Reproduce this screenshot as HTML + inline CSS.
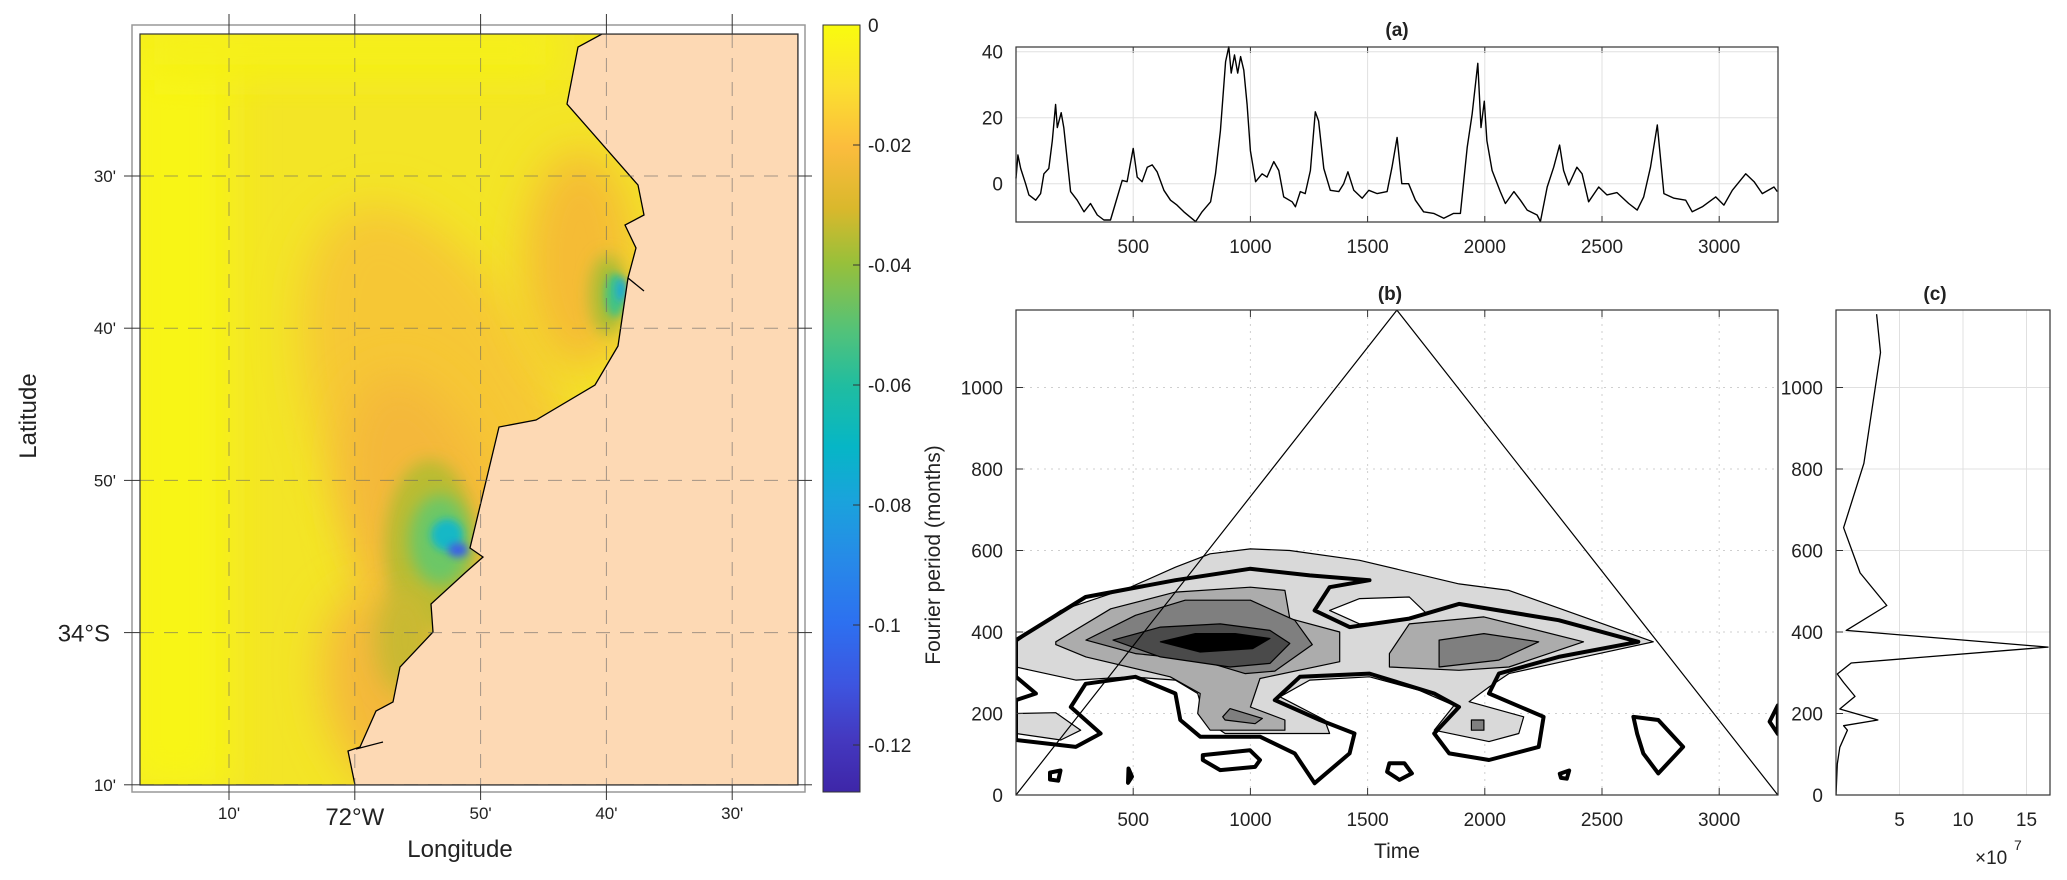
<!DOCTYPE html>
<html><head><meta charset="utf-8">
<style>
html,body{margin:0;padding:0;background:#fff;}
svg{display:block;font-family:"Liberation Sans",Arial,sans-serif;}
</style></head>
<body>
<svg id="fig" width="2067" height="880" viewBox="0 0 2067 880" xmlns="http://www.w3.org/2000/svg">
<defs>
  <linearGradient id="parula" x1="0" y1="0" x2="0" y2="1">
    <stop offset="0" stop-color="#f9fb0e"/>
    <stop offset="0.08" stop-color="#fbe02f"/>
    <stop offset="0.16" stop-color="#fbbc3d"/>
    <stop offset="0.24" stop-color="#d9b82c"/>
    <stop offset="0.31" stop-color="#98c03a"/>
    <stop offset="0.40" stop-color="#52c27a"/>
    <stop offset="0.47" stop-color="#20bda0"/>
    <stop offset="0.55" stop-color="#06b6c6"/>
    <stop offset="0.62" stop-color="#1aa3dc"/>
    <stop offset="0.70" stop-color="#2789e8"/>
    <stop offset="0.78" stop-color="#2d70f0"/>
    <stop offset="0.86" stop-color="#3d55e0"/>
    <stop offset="0.93" stop-color="#4439c0"/>
    <stop offset="1" stop-color="#3e26a8"/>
  </linearGradient>
  <filter id="blur20" x="-50%" y="-50%" width="200%" height="200%"><feGaussianBlur stdDeviation="22"/></filter>
  <filter id="blur12" x="-50%" y="-50%" width="200%" height="200%"><feGaussianBlur stdDeviation="12"/></filter>
  <filter id="blur8" x="-50%" y="-50%" width="200%" height="200%"><feGaussianBlur stdDeviation="8"/></filter>
  <filter id="blur4" x="-50%" y="-50%" width="200%" height="200%"><feGaussianBlur stdDeviation="4"/></filter>
  <clipPath id="mapclip"><rect x="140" y="34" width="658" height="751"/></clipPath>
  <clipPath id="bclip"><rect x="1016" y="310" width="762" height="485"/></clipPath>
  <clipPath id="cclip"><rect x="1836" y="310" width="214" height="485"/></clipPath>
</defs>

<!-- MAP -->
<g>
  <rect x="132" y="25" width="673" height="767" fill="#fff" stroke="#999" stroke-width="1.5"/>
  <g clip-path="url(#mapclip)">
    <rect x="140" y="34" width="658" height="751" fill="#f3e526"/>
    <rect x="120" y="34" width="110" height="760" fill="#f8f512" filter="url(#blur20)"/>
    <rect x="140" y="20" width="420" height="60" fill="#f6f118" filter="url(#blur20)"/>
    <ellipse cx="450" cy="450" rx="120" ry="260" transform="rotate(-22 450 450)" fill="#f6c734" filter="url(#blur20)"/>
    <ellipse cx="430" cy="540" rx="75" ry="170" transform="rotate(-15 430 540)" fill="#f4b83a" filter="url(#blur20)"/>
    <ellipse cx="380" cy="690" rx="55" ry="100" transform="rotate(-10 380 690)" fill="#f4b83a" filter="url(#blur20)"/>
    <ellipse cx="580" cy="260" rx="55" ry="110" fill="#f5bb36" filter="url(#blur20)"/>
    <ellipse cx="430" cy="545" rx="45" ry="85" fill="#b9bc32" filter="url(#blur8)"/>
    <ellipse cx="405" cy="640" rx="30" ry="55" fill="#c9b930" filter="url(#blur12)"/>
    <ellipse cx="440" cy="540" rx="30" ry="45" fill="#6cc766" filter="url(#blur8)"/>
    <ellipse cx="447" cy="535" rx="16" ry="16" fill="#14b8c6" filter="url(#blur4)"/>
    <ellipse cx="458" cy="550" rx="10" ry="7" fill="#3b5ee8" filter="url(#blur4)"/>
    <ellipse cx="608" cy="295" rx="18" ry="40" fill="#a9bd34" filter="url(#blur8)"/>
    <ellipse cx="615" cy="295" rx="10" ry="22" fill="#44c382" filter="url(#blur4)"/>
    <ellipse cx="621" cy="290" rx="5" ry="12" fill="#1ea8d8" filter="url(#blur4)"/>
    <polygon id="land" fill="#fdd9b4" stroke="#000" stroke-width="1.3"
      points="602,34 578,47 567,104 638,185 644,215 625,225 636,248 628,278 618,346 595,385 536,420 499,427 470,548 483,557 466,572 431,604 433,632 400,667 393,702 376,711 360,747 348,751 355,785 798,785 798,34"/>
    <polyline points="628,278 644,291" stroke="#000" stroke-width="1.3" fill="none"/>
    <polyline points="356,749 383,742" stroke="#000" stroke-width="1.3" fill="none"/>
    <g id="mapgrid"></g>
  </g>
  <rect x="140" y="34" width="658" height="751" fill="none" stroke="#333" stroke-width="1.2"/>
  <g id="mapticks"></g>
  <text x="460" y="857" font-size="24" text-anchor="middle" fill="#222">Longitude</text>
  <text transform="translate(36,416) rotate(-90)" font-size="24" text-anchor="middle" fill="#222">Latitude</text>
</g>

<!-- COLORBAR -->
<g>
  <rect x="823" y="25" width="37" height="767" fill="url(#parula)" stroke="#333" stroke-width="1"/>
  <g id="cbticks"></g>
</g>

<g id="pa"></g>
<g id="pb"></g>
<g id="pc"></g>
</svg>

<script>
// ---------------- data ----------------
const lonLabels = ["10'", "72°W", "50'", "40'", "30'"];
const latLabels = ["30'", "40'", "50'", "34°S", "10'"];
const cbValues = [0, -0.02, -0.04, -0.06, -0.08, -0.1, -0.12];
const cbLabels = ["0", "-0.02", "-0.04", "-0.06", "-0.08", "-0.1", "-0.12"];

const timeTicks = [500, 1000, 1500, 2000, 2500, 3000];
const aYTicks = [0, 20, 40];
const periodTicks = [0, 200, 400, 600, 800, 1000];
const cXTicks = [5, 10, 15];

const seriesT = [0,8,20,41,55,84,105,119,140,155,169,176,193,204,219,233,261,290,318,347,375,403,424,453,474,500,517,538,560,581,602,631,659,687,716,766,794,830,851,872,894,908,918,932,946,958,972,986,1000,1022,1050,1071,1100,1121,1142,1178,1192,1213,1234,1256,1277,1291,1313,1341,1377,1398,1416,1441,1477,1505,1541,1583,1604,1626,1646,1675,1704,1739,1782,1825,1867,1896,1925,1946,1970,1984,1998,2009,2031,2066,2088,2124,2152,2181,2223,2237,2266,2294,2319,2336,2358,2393,2415,2443,2486,2521,2564,2614,2650,2678,2707,2736,2764,2807,2857,2885,2928,2985,3020,3056,3113,3149,3184,3234,3248];
const seriesV = [1.6,8.7,4.6,0,-3.4,-5,-3,3,4.6,13,24,17,21.5,17,7,-2.4,-5,-8.5,-6,-9.5,-11,-11,-6,1,0.6,10.7,2,0.6,5,5.7,3.6,-2,-5,-6.5,-8.5,-11.5,-8.5,-5.5,3,16,37,41.5,33.5,39,33.5,38.5,34.4,24,10,0.6,3,2,6.7,4,-4,-5.5,-7,-2.4,-3,4,21.8,19,4.6,-2,-2.4,0,3.6,-2,-4.4,-2,-3,-2.4,5,14,0,0,-5,-8.5,-9,-10.5,-9,-9,11,21,36.5,17,25,13,4,-2.4,-6,-2.4,-5,-8,-9.5,-11.5,-1,5,11.7,4,-0.4,5,3,-5.5,-1,-3.4,-2.7,-6,-8,-4,5,17.8,-3,-4.4,-5,-8.5,-7,-4,-6.5,-2,3,0.6,-3,-1,-2.4];

const coiT = [0, 1625, 3250];
const coiP = [0, 1190, 0];

const levelOuter = [[0,375],[191,453],[488,510],[680,559],[828,592],[1000,604],[1168,600],[1466,576],[1890,518],[2103,502],[2421,437],[2719,376],[2421,339],[2103,298],[2018,265],[1933,229],[2166,192],[2145,151],[2018,131],[1784,159],[1869,220],[1720,257],[1508,290],[1253,282],[1126,241],[1317,184],[1338,151],[1147,151],[892,151],[807,184],[775,249],[680,282],[488,290],[255,282],[64,306],[0,314]];
const levelOuterBlob = [[0,200],[170,202],[276,159],[191,135],[0,151]];
const levelHole = [[1338,453],[1466,482],[1678,486],[1752,445],[1657,429],[1466,420]];
const level2Left = [[170,376],[404,457],[680,498],[1000,510],[1147,502],[1168,433],[1381,400],[1381,327],[1041,286],[1000,216],[1147,184],[1147,159],[828,159],[775,200],[786,249],[658,290],[298,339],[170,369]];
const level2Right = [[1593,347],[1678,420],[1996,437],[2421,376],[2103,314],[1890,306],[1593,314]];
const level3Left = [[298,380],[510,441],[722,478],[1000,478],[1189,429],[1264,369],[1104,304],[977,298],[786,331],[510,347]];
const level3Right = [[1805,380],[1996,396],[2230,376],[2060,331],[1805,314]];
const level3BlobA = [[882,192],[913,212],[1051,188],[1020,175],[892,184]];
const level3BlobB = [[1943,184],[1996,184],[1996,159],[1943,159]];
const level4 = [[414,380],[616,412],[871,420],[1083,404],[1168,372],[1083,323],[913,314],[616,339]];
const level5 = [[616,376],[765,396],[935,396],[1083,384],[1009,359],[786,351]];
const sigMain = [[0,380],[297,486],[680,527],[998,555],[1253,539],[1508,527],[1338,510],[1274,453],[1423,412],[1678,433],[1890,469],[2315,429],[2655,376],[2315,339],[2060,298],[2018,249],[2251,192],[2230,118],[2018,86],[1848,102],[1784,151],[1890,216],[1784,249],[1508,298],[1211,290],[1104,233],[1296,184],[1444,151],[1423,102],[1274,29],[1189,102],[1041,143],[786,143],[701,184],[680,249],[510,290],[297,273],[234,216],[361,151],[255,118],[0,135],[0,233],[85,249],[0,290]];
const sigLoopA = [[797,98],[998,110],[1041,86],[1020,69],[871,61],[797,86]];
const sigLoopB = [[2634,192],[2740,184],[2846,118],[2740,53],[2676,102],[2650,150]];
const sigLoopC = [[1593,78],[1657,78],[1689,53],[1636,37],[1583,57]];
const sigLoopD = [[145,55],[190,60],[180,35],[145,38]];
const sigLoopE = [[480,65],[495,45],[478,30]];
const sigLoopF = [[2320,52],[2360,60],[2350,40],[2325,42]];
const sigLoopG = [[3250,220],[3215,180],[3250,150]];

const specP = [1180,1086,814,656,545,465,404,363,324,297,276,242,211,184,170,159,117,76,0];
const specV = [3.2,3.5,2.2,0.6,1.9,4.0,0.8,16.7,1.2,0.1,0.6,1.5,0.3,3.3,0.6,0.9,0.3,0.1,0];

// ---------------- helpers ----------------
const NS = "http://www.w3.org/2000/svg";
function mk(parent, tag, attrs, text) {
  const e = document.createElementNS(NS, tag);
  for (const k in attrs) e.setAttribute(k, attrs[k]);
  if (text !== undefined) e.textContent = text;
  parent.appendChild(e);
  return e;
}
const tX = t => 1016 + t * 0.2344;
const aY = v => 183.7 - v * 3.3;
const pY = p => 795 - p * 0.4075;
const cX = v => 1836 + v * 12.7;
const cbY = v => 25 + (-v) * 6000;
const mapLonX = i => 229 + i * 125.8;
const mapLatY = i => 176 + i * 152.2;
const TF = 19;

// ---------------- map grid & ticks ----------------
const mg = document.getElementById('mapgrid');
const mt = document.getElementById('mapticks');
lonLabels.forEach((lab, i) => {
  const x = mapLonX(i);
  const gl = mk(mg, 'line', {x1:x, y1:34, x2:x, y2:785, stroke:'#666', 'stroke-width':1, 'stroke-dasharray':'14,10', opacity:0.6});
  
  
  mk(mt, 'line', {x1:x, y1:14, x2:x, y2:34, stroke:'#333', 'stroke-width':1});
  mk(mt, 'line', {x1:x, y1:785, x2:x, y2:800, stroke:'#333', 'stroke-width':1});
  const big = lab.indexOf('°') >= 0;
  const t = mk(mt, 'text', {x:x, y: big ? 825 : 819, 'font-size': big ? 24 : 17, 'text-anchor':'middle', fill:'#222'}, lab);
  
  
});
latLabels.forEach((lab, i) => {
  const y = mapLatY(i);
  const gl = mk(mg, 'line', {x1:140, y1:y, x2:798, y2:y, stroke:'#666', 'stroke-width':1, 'stroke-dasharray':'14,10', opacity:0.6});
  
  
  mk(mt, 'line', {x1:124, y1:y, x2:140, y2:y, stroke:'#333', 'stroke-width':1});
  mk(mt, 'line', {x1:798, y1:y, x2:812, y2:y, stroke:'#333', 'stroke-width':1});
  const big = lab.indexOf('°') >= 0;
  const t = mk(mt, 'text', {x: big ? 110 : 116, y:y + (big ? 9 : 6), 'font-size': big ? 24 : 17, 'text-anchor':'end', fill:'#222'}, lab);
  
  
});

// ---------------- colorbar ticks ----------------
const cbt = document.getElementById('cbticks');
cbValues.forEach((v, i) => {
  const y = cbY(v);
  mk(cbt, 'line', {x1:853, y1:y, x2:860, y2:y, stroke:'#333', 'stroke-width':1});
  const t = mk(cbt, 'text', {x:868, y:y + 7, 'font-size':TF, fill:'#222'}, cbLabels[i]);
  
  
});

// ---------------- panel a ----------------
const pa = document.getElementById('pa');
timeTicks.forEach(t => {
  const x = tX(t);
  mk(pa, 'line', {x1:x, y1:47, x2:x, y2:222, stroke:'#e0e0e0', 'stroke-width':1});
  mk(pa, 'line', {x1:x, y1:47, x2:x, y2:53, stroke:'#333'});
  mk(pa, 'line', {x1:x, y1:216, x2:x, y2:222, stroke:'#333'});
  const lb = mk(pa, 'text', {x:x, y:253, 'font-size':TF, 'text-anchor':'middle', fill:'#222'}, String(t));
  
  
});
aYTicks.forEach(v => {
  const y = aY(v);
  mk(pa, 'line', {x1:1016, y1:y, x2:1778, y2:y, stroke:'#e0e0e0', 'stroke-width':1});
  const lb = mk(pa, 'text', {x:1003, y:y + 7, 'font-size':TF, 'text-anchor':'end', fill:'#222'}, String(v));
  
  
});
{
  let d = '';
  seriesT.forEach((t, i) => { d += (i ? 'L' : 'M') + tX(t).toFixed(1) + ',' + aY(seriesV[i]).toFixed(1); });
  const ln = mk(pa, 'path', {d:d, fill:'none', stroke:'#000', 'stroke-width':1.4, 'stroke-linejoin':'round'});
  
  
}
mk(pa, 'rect', {x:1016, y:47, width:762, height:175, fill:'none', stroke:'#333', 'stroke-width':1.2});
{
  const tt = mk(pa, 'text', {x:1397, y:36, 'font-size':19, 'font-weight':'bold', 'text-anchor':'middle', fill:'#222'}, '(a)');
  
  
}

// ---------------- panel b ----------------
const pb = document.getElementById('pb');
const clipB = mk(pb, 'g', {'clip-path':'url(#bclip)'});
timeTicks.forEach(t => {
  const x = tX(t);
  mk(clipB, 'line', {x1:x, y1:310, x2:x, y2:795, stroke:'#cfcfcf', 'stroke-width':1, 'stroke-dasharray':'2,5'});
});
periodTicks.forEach(p => {
  const y = pY(p);
  mk(clipB, 'line', {x1:1016, y1:y, x2:1778, y2:y, stroke:'#cfcfcf', 'stroke-width':1, 'stroke-dasharray':'2,5'});
});
function poly(parent, pts, attrs, name) {
  const s = pts.map(p => tX(p[0]).toFixed(1) + ',' + pY(p[1]).toFixed(1)).join(' ');
  const a = Object.assign({points:s}, attrs);
  const e = mk(parent, 'polygon', a);
  
  
  return e;
}
const thin = {stroke:'#000', 'stroke-width':1.2, 'stroke-linejoin':'round'};
poly(clipB, levelOuter, Object.assign({fill:'#d9d9d9'}, thin), 'contour-level-1');
poly(clipB, levelOuterBlob, Object.assign({fill:'#d9d9d9'}, thin), 'contour-level-1-blob');
poly(clipB, levelHole, Object.assign({fill:'#ffffff'}, thin), 'contour-hole');
poly(clipB, level2Left, Object.assign({fill:'#acacac'}, thin), 'contour-level-2-left');
poly(clipB, level2Right, Object.assign({fill:'#acacac'}, thin), 'contour-level-2-right');
poly(clipB, level3Left, Object.assign({fill:'#7f7f7f'}, thin), 'contour-level-3-left');
poly(clipB, level3Right, Object.assign({fill:'#7f7f7f'}, thin), 'contour-level-3-right');
poly(clipB, level3BlobA, Object.assign({fill:'#7f7f7f'}, thin), 'contour-level-3-blob-a');
poly(clipB, level3BlobB, Object.assign({fill:'#7f7f7f'}, thin), 'contour-level-3-blob-b');
poly(clipB, level4, Object.assign({fill:'#4a4a4a'}, thin), 'contour-level-4');
poly(clipB, level5, Object.assign({fill:'#000'}, thin), 'contour-level-5');
const thick = {fill:'none', stroke:'#000', 'stroke-width':4, 'stroke-linejoin':'round'};
poly(clipB, sigMain, thick, 'significance-contour');
poly(clipB, sigLoopA, thick, 'significance-loop');
poly(clipB, sigLoopB, thick, 'significance-loop');
poly(clipB, sigLoopC, thick, 'significance-loop');
poly(clipB, sigLoopD, thick, 'significance-loop');
poly(clipB, sigLoopE, thick, 'significance-loop');
poly(clipB, sigLoopF, thick, 'significance-loop');
poly(clipB, sigLoopG, thick, 'significance-loop');
{
  const s = coiT.map((t, i) => tX(t).toFixed(1) + ',' + pY(coiP[i]).toFixed(1)).join(' ');
  const c = mk(clipB, 'polyline', {points:s, fill:'none', stroke:'#000', 'stroke-width':1.2});
  
  
}
mk(pb, 'rect', {x:1016, y:310, width:762, height:485, fill:'none', stroke:'#333', 'stroke-width':1.2});
timeTicks.forEach(t => {
  const x = tX(t);
  mk(pb, 'line', {x1:x, y1:310, x2:x, y2:317, stroke:'#333'});
  mk(pb, 'line', {x1:x, y1:788, x2:x, y2:795, stroke:'#333'});
  const lb = mk(pb, 'text', {x:x, y:826, 'font-size':TF, 'text-anchor':'middle', fill:'#222'}, String(t));
  
  
});
periodTicks.forEach(p => {
  const y = pY(p);
  mk(pb, 'line', {x1:1016, y1:y, x2:1023, y2:y, stroke:'#333'});
  const lb = mk(pb, 'text', {x:1003, y:y + 7, 'font-size':TF, 'text-anchor':'end', fill:'#222'}, String(p));
  
  
});
{
  const a = mk(pb, 'text', {x:1397, y:858, 'font-size':21, 'text-anchor':'middle', fill:'#222'}, 'Time');
  
  
  const b = mk(pb, 'text', {transform:'translate(940,555) rotate(-90)', 'font-size':21, 'text-anchor':'middle', fill:'#222'}, 'Fourier period (months)');
  
  
  const c = mk(pb, 'text', {x:1390, y:300, 'font-size':19, 'font-weight':'bold', 'text-anchor':'middle', fill:'#222'}, '(b)');
  
  
}

// ---------------- panel c ----------------
const pc = document.getElementById('pc');
const clipC = mk(pc, 'g', {'clip-path':'url(#cclip)'});
cXTicks.forEach(v => {
  const x = cX(v);
  mk(clipC, 'line', {x1:x, y1:310, x2:x, y2:795, stroke:'#e0e0e0', 'stroke-width':1});
});
periodTicks.forEach(p => {
  const y = pY(p);
  mk(clipC, 'line', {x1:1836, y1:y, x2:2050, y2:y, stroke:'#e0e0e0', 'stroke-width':1});
});
{
  const s = specP.map((p, i) => cX(specV[i]).toFixed(1) + ',' + pY(p).toFixed(1)).join(' ');
  const l = mk(clipC, 'polyline', {points:s, fill:'none', stroke:'#000', 'stroke-width':1.3, 'stroke-linejoin':'round'});
  
  
}
mk(pc, 'rect', {x:1836, y:310, width:214, height:485, fill:'none', stroke:'#333', 'stroke-width':1.2});
cXTicks.forEach(v => {
  const x = cX(v);
  const lb = mk(pc, 'text', {x:x, y:826, 'font-size':TF, 'text-anchor':'middle', fill:'#222'}, String(v));
  
  
});
periodTicks.forEach(p => {
  const y = pY(p);
  mk(pc, 'line', {x1:1836, y1:y, x2:1843, y2:y, stroke:'#333'});
  const lb = mk(pc, 'text', {x:1823, y:y + 7, 'font-size':TF, 'text-anchor':'end', fill:'#222'}, String(p));
  
  
});
{
  const c = mk(pc, 'text', {x:1935, y:300, 'font-size':19, 'font-weight':'bold', 'text-anchor':'middle', fill:'#222'}, '(c)');
  
  
  const e = mk(pc, 'text', {x:1975, y:864, 'font-size':19, fill:'#222'}, '×10');
  
  
  const s = mk(pc, 'text', {x:2014, y:850, 'font-size':14, fill:'#222'}, '7');
  
  
}
</script>
</body></html>
